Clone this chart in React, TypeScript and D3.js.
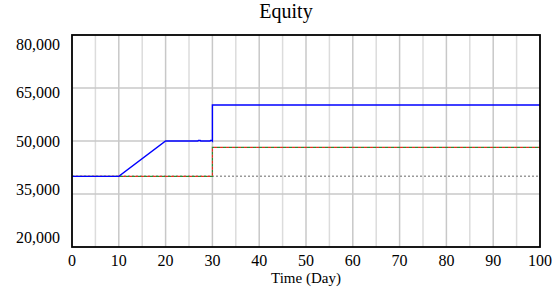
import React, { useEffect, useRef } from 'react';
import * as d3 from 'd3';

const title = 'Equity';
const xLabel = 'Time (Day)';
const xTicks = [0, 10, 20, 30, 40, 50, 60, 70, 80, 90, 100];
const xGrid = d3.range(5, 100, 5);
const yTicks = [20000, 35000, 50000, 65000, 80000];

// series: [day, value]
const blueSeries: [number, number][] = [
  [0, 40000], [10, 40000], [20, 50000], [26.9, 50000], [27, 50150], [27.4, 50150],
  [27.5, 50000], [29.5, 50000], [29.6, 50150], [29.9, 50150], [30, 50000],
  [30, 60200], [100, 60200],
];
const redSeries: [number, number][] = [[0, 40000], [30, 40000], [30, 48200], [100, 48200]];
const greenSeries: [number, number][] = [[0, 40000], [30, 40000], [30, 48200], [100, 48200]];
const graySeries: [number, number][] = [[0, 40000], [100, 40000]];

const App = () => {
  const chart = useRef<SVGSVGElement>(null);
  const width = 556;
  const height = 294;
  const margin = { top: 35, right: 16, bottom: 47, left: 72 };

  useEffect(() => {
    const svg = d3.select(chart.current);
    svg.selectAll('*').remove();

    const x = d3.scaleLinear().domain([0, 100]).range([margin.left, width - margin.right]);
    const y = d3.scaleLinear().domain([20000, 80000]).range([height - margin.bottom, margin.top]);
    // value labels sit evenly but a bit inside the frame
    const yl = d3.scaleLinear().domain([20000, 80000])
      .range([height - margin.bottom - 9, margin.top + 10]);

    const font = '"Liberation Serif", "Times New Roman", serif';

    svg.append('rect').attr('width', width).attr('height', height).attr('fill', '#fff');

    svg.append('g').selectAll('line').data(xGrid).join('line')
      .attr('x1', d => x(d)).attr('x2', d => x(d))
      .attr('y1', margin.top).attr('y2', height - margin.bottom)
      .attr('stroke', d => d % 10 === 0 ? '#c8c8c8' : '#dcdcdc')
      .attr('stroke-width', 1.5);

    svg.append('g').selectAll('line').data(yTicks.slice(1, -1)).join('line')
      .attr('x1', margin.left).attr('x2', width - margin.right)
      .attr('y1', d => y(d)).attr('y2', d => y(d))
      .attr('stroke', '#c8c8c8').attr('stroke-width', 1.5);

    const line = d3.line<[number, number]>().x(d => x(d[0])).y(d => y(d[1]));

    svg.append('path').datum(graySeries).attr('d', line)
      .attr('fill', 'none').attr('stroke', '#9a9a9a').attr('stroke-width', 1.5)
      .attr('stroke-dasharray', '2,2');
    svg.append('path').datum(greenSeries).attr('d', line)
      .attr('fill', 'none').attr('stroke', '#2e8b2e').attr('stroke-width', 1.2)
      .attr('stroke-dasharray', '3,3');
    svg.append('path').datum(redSeries).attr('d', line)
      .attr('fill', 'none').attr('stroke', '#e03020').attr('stroke-width', 1.2)
      .attr('stroke-dasharray', '3,3').attr('stroke-dashoffset', 3);
    svg.append('path').datum(blueSeries).attr('d', line)
      .attr('fill', 'none').attr('stroke', '#0000ff').attr('stroke-width', 1.4);

    svg.append('rect')
      .attr('x', margin.left).attr('y', margin.top)
      .attr('width', width - margin.left - margin.right)
      .attr('height', height - margin.top - margin.bottom)
      .attr('fill', 'none').attr('stroke', '#000').attr('stroke-width', 1.8);

    svg.append('g').selectAll('text').data(xTicks).join('text')
      .attr('x', d => x(d)).attr('y', height - margin.bottom + 19)
      .attr('text-anchor', 'middle').attr('font-family', font).attr('font-size', 16)
      .attr('fill', '#000').text(d => d);

    svg.append('g').selectAll('text').data(yTicks).join('text')
      .attr('x', margin.left - 12).attr('y', d => yl(d) + 5)
      .attr('text-anchor', 'end').attr('font-family', font).attr('font-size', 16)
      .attr('fill', '#000').text(d => d3.format(',')(d));

    svg.append('text')
      .attr('x', (margin.left + width - margin.right) / 2).attr('y', height - 11)
      .attr('text-anchor', 'middle').attr('font-family', font).attr('font-size', 15)
      .text(xLabel);

    svg.append('text')
      .attr('x', 286).attr('y', 18)
      .attr('text-anchor', 'middle').attr('font-family', font).attr('font-size', 20)
      .text(title);
  }, []);

  return (
    <svg ref={chart} width={width} height={height}
      style={{ position: 'absolute', left: 0, top: 0, display: 'block' }} />
  );
};

export default App;
